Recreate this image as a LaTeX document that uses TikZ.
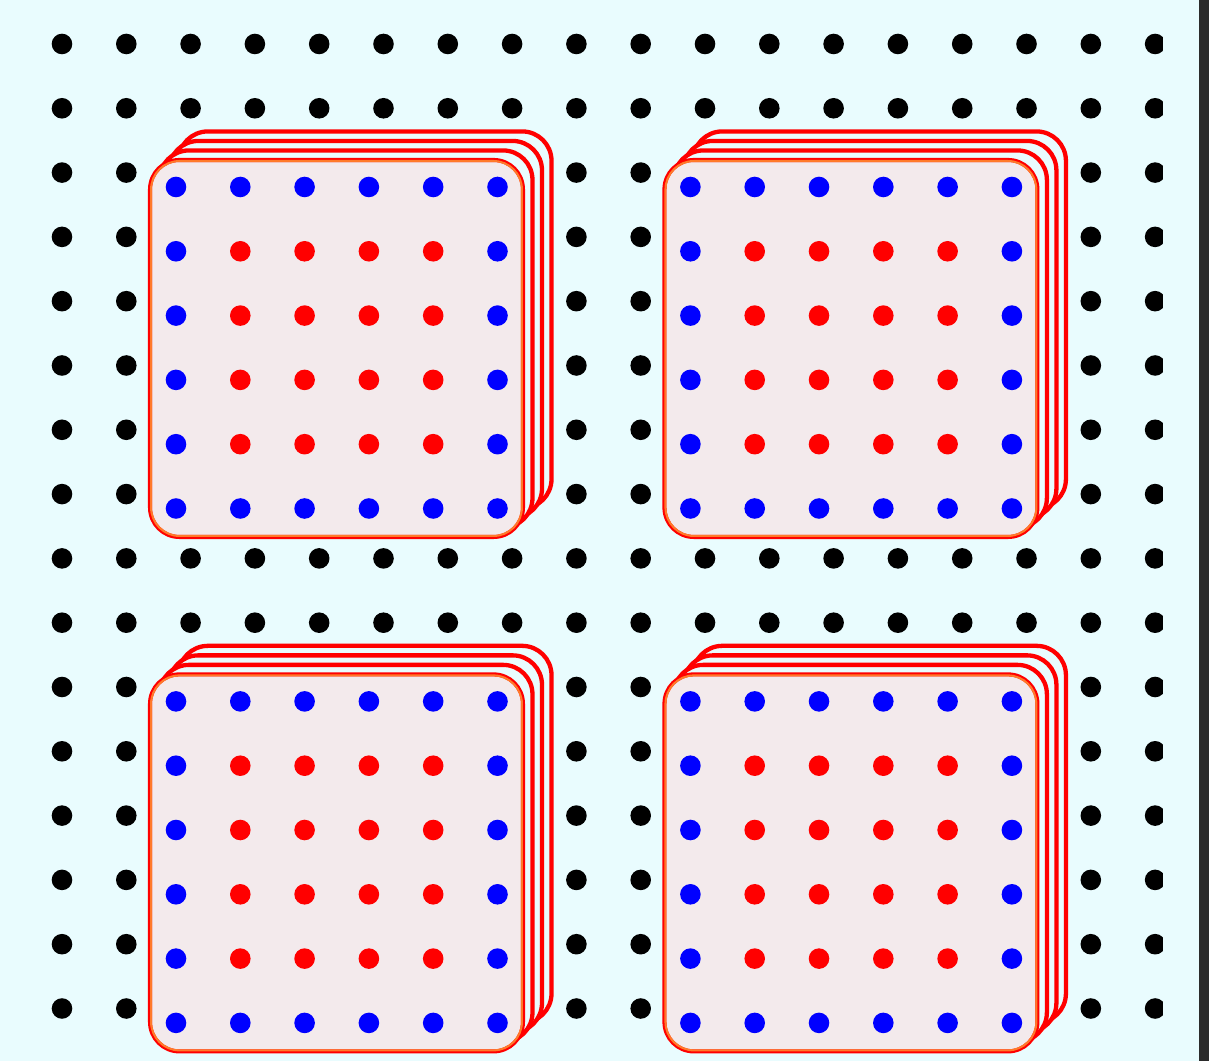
\documentclass[tikz,border=0pt]{standalone}
\usepackage{tikz}
\usepackage{xcolor}
\definecolor{bgcyan}   {HTML}{E9FCFE}
\definecolor{tilefill} {HTML}{F3EAEC}
\definecolor{tileedge} {HTML}{FF7A2A}
\definecolor{stackred} {HTML}{FF0000}
\definecolor{pinblue}  {HTML}{0000FF}
\definecolor{pinred}   {HTML}{FF0000}
\definecolor{barink}   {HTML}{2B2B2B}

\begin{document}
\begin{tikzpicture}[x=1cm,y=1cm,pin/.style={radius=0.16}]
        \fill[bgcyan] (-0.964,0.684) rectangle (17.838,-15.817);
        \useasboundingbox (-0.964,0.684) rectangle (17.838,-15.817);
        \begin{scope}
          \clip (-0.964,0.684) rectangle (17.12,-15.817);
          \foreach \i in {0,...,17} {
            \foreach \j in {0,...,15} {
              \fill[black] (\i,-\j) circle[pin];
            }
          }
        \end{scope}
        \fill[barink] (17.68,0.684) rectangle (17.838,-15.817);
        \foreach \sx/\sy in {0/0,8/0,0/-8,8/-8} {
          \begin{scope}[shift={(\sx,\sy)}]
            \foreach \k in {3,2,1} {
              \draw[stackred,fill=bgcyan,line width=1.9pt,rounded corners=13pt]
                (1.369+0.148*\k,-1.804+0.148*\k) rectangle ++(5.80,-5.863);
            }
            \draw[stackred,fill=tilefill,line width=1.8pt,rounded corners=13pt]
              (1.369,-1.804) rectangle ++(5.80,-5.863);
            \draw[tileedge,line width=0.9pt,rounded corners=12.6pt]
              (1.385,-1.820) rectangle ++(5.768,-5.831);
            \begin{scope}[shift={(1.773,-2.224)}]
              \foreach \a in {0,...,5} {
                \fill[pinblue] (\a,0) circle[pin];
                \fill[pinblue] (\a,-5) circle[pin];
              }
              \foreach \b in {1,...,4} {
                \fill[pinblue] (0,-\b) circle[pin];
                \fill[pinblue] (5,-\b) circle[pin];
              }
              \foreach \a in {1,...,4} {
                \foreach \b in {1,...,4} {
                  \fill[pinred] (\a,-\b) circle[pin];
                }
              }
            \end{scope}
          \end{scope}
        }
      \end{tikzpicture}
\end{document}
